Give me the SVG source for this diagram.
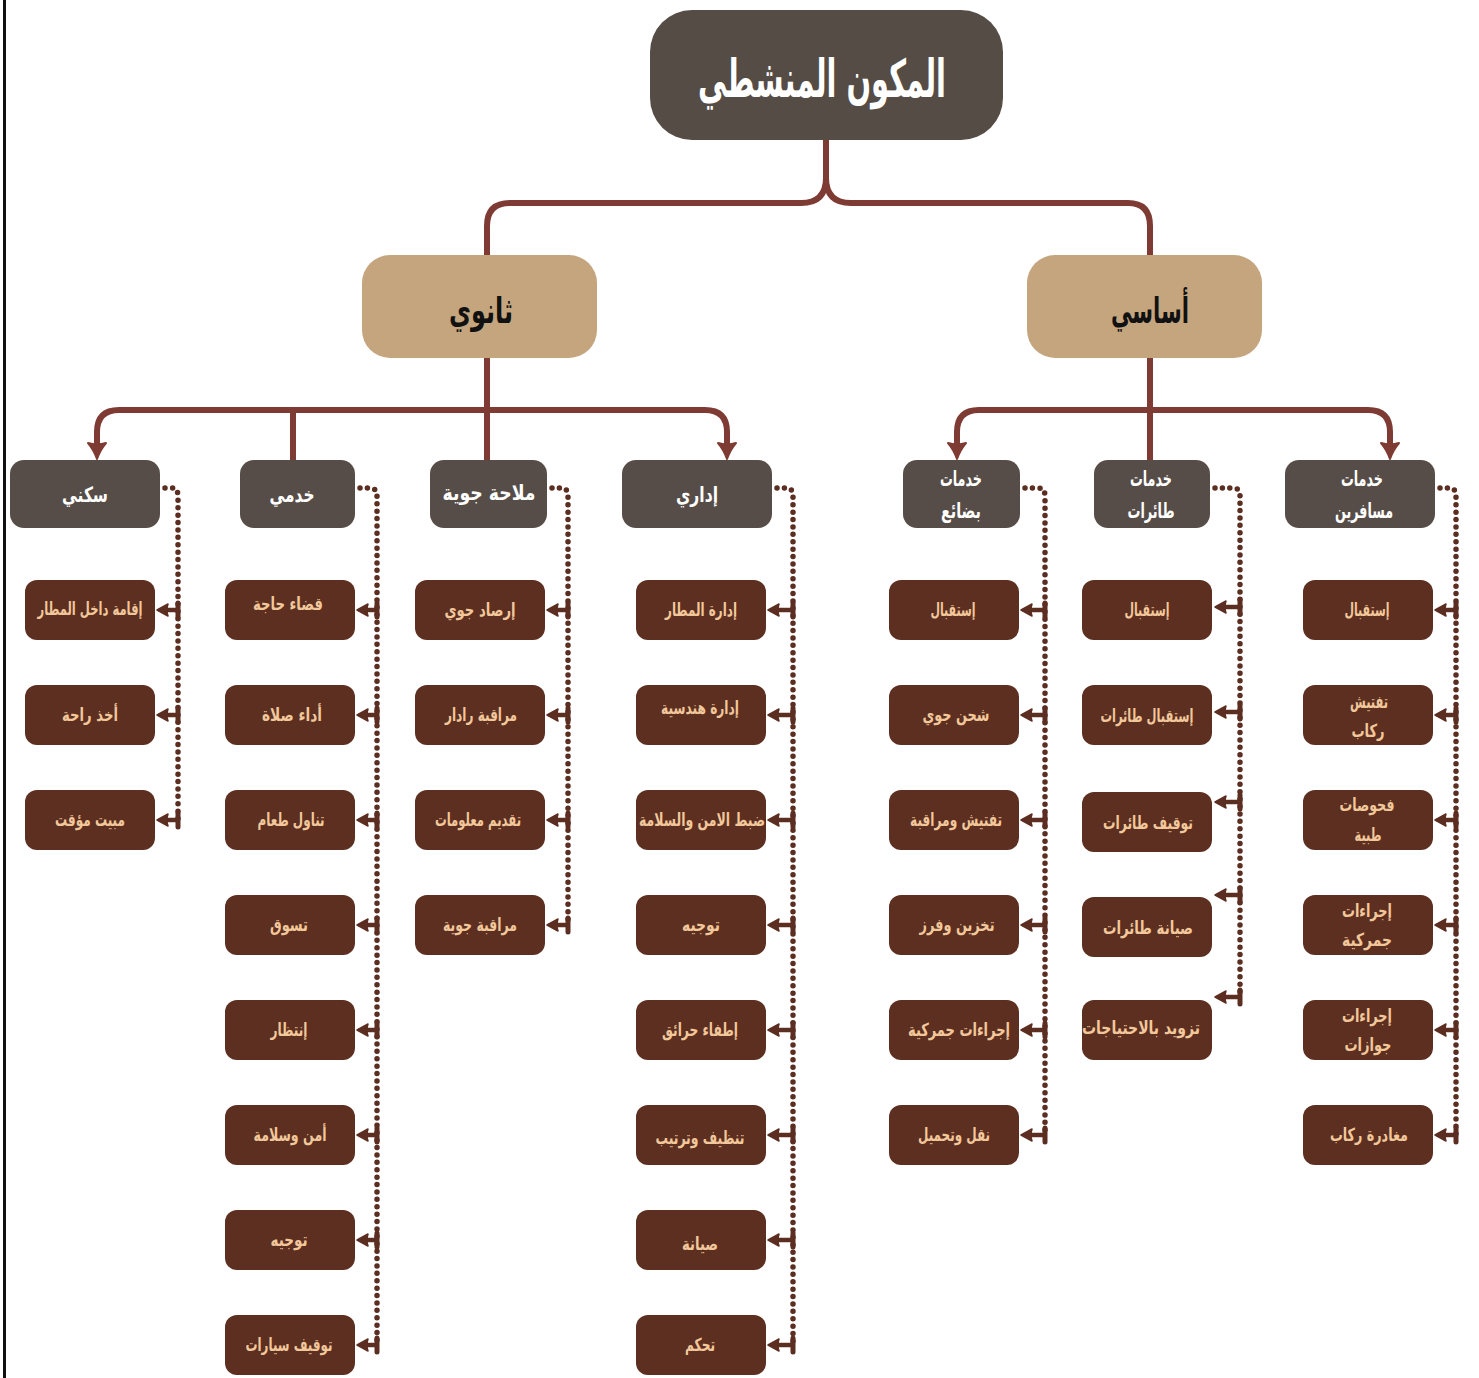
<svg xmlns="http://www.w3.org/2000/svg" width="1479" height="1378" viewBox="0 0 1479 1378">
  <defs>
    <style>
      text { font-family: "DejaVu Sans", "Noto Sans", sans-serif; text-anchor: middle; direction: rtl; }
      .root rect { fill: #564c46; }
      .root text { fill: #ffffff; font-size: 52px; font-weight: bold; }
      .lvl1 rect { fill: #c4a57d; }
      .lvl1 text { fill: #111111; font-size: 36px; font-weight: bold; }
      .head rect { fill: #574d48; }
      .head text { fill: #ffffff; font-size: 21px; font-weight: bold; }
      .leaf rect { fill: #5c2f21; }
      .leaf text { fill: #f2c89b; font-size: 18px; font-weight: bold; }
      .trunk { fill: none; stroke: #7e3b34; stroke-width: 6; stroke-linecap: butt; }
      .dots { fill: none; stroke: #5c2e22; stroke-width: 5.5; stroke-linecap: round; stroke-dasharray: 0 7.4; }
      .tick { fill: none; stroke: #5c2e22; stroke-width: 4.5; }
      .bar { stroke: #5c2e22; stroke-width: 5; stroke-linecap: round; }
    </style>
    <marker id="arrowDown" markerUnits="userSpaceOnUse" markerWidth="30" markerHeight="30" viewBox="-15 -15 30 30" refX="0" refY="0" orient="auto">
      <path d="M-5,-9 Q2,-3 11,0 Q2,3 -5,9 Q-2,0 -5,-9 Z" fill="#7e3b34" stroke="#7e3b34" stroke-width="2" stroke-linejoin="round"/>
    </marker>
    <marker id="arrowLeaf" markerUnits="userSpaceOnUse" markerWidth="20" markerHeight="20" viewBox="-10 -10 20 20" refX="0" refY="0" orient="auto">
      <path d="M-4,-6 L7,0 L-4,6 Q-2,0 -4,-6 Z" fill="#5c2e22" stroke="#5c2e22" stroke-width="1.5" stroke-linejoin="round"/>
    </marker>
  </defs>

  <rect width="1479" height="1378" fill="#ffffff"/>
  <line x1="4.5" y1="0" x2="4.5" y2="1378" stroke="#111111" stroke-width="3"/>

  <!-- connectors -->
  <g id="connectors">
    <!-- brace under the root -->
    <path class="trunk" d="M826,140 V178 Q826,203 801,203 H510 Q487,203 487,226 V258"/>
    <path class="trunk" d="M826,178 Q826,203 851,203 H1128 Q1150,203 1150,226 V258"/>
    <!-- secondary branch -->
    <path class="trunk" d="M487,356 V462"/>
    <path class="trunk" d="M293,410 V462"/>
    <path class="trunk" marker-end="url(#arrowDown)" d="M487,410 H119 Q97,410 97,432 V448"/>
    <path class="trunk" marker-end="url(#arrowDown)" d="M487,410 H705 Q727,410 727,432 V448"/>
    <!-- primary branch -->
    <path class="trunk" d="M1150,356 V462"/>
    <path class="trunk" marker-end="url(#arrowDown)" d="M1150,410 H979 Q957,410 957,432 V448"/>
    <path class="trunk" marker-end="url(#arrowDown)" d="M1150,410 H1368 Q1390,410 1390,432 V448"/>

    <!-- dotted leaders from the headers -->
    <path class="dots" d="M165,488 H171 Q178,488 178,496 V823"/>
    <path class="dots" d="M360,488 H370 Q377,488 377,496 V1345"/>
    <path class="dots" d="M552,488 H561 Q568,488 568,496 V925"/>
    <path class="dots" d="M777,488 H786 Q793,488 793,496 V1345"/>
    <path class="dots" d="M1025,488 H1038 Q1045,488 1045,496 V1135"/>
    <path class="dots" d="M1215,488 H1233 Q1240,488 1240,496 V997"/>
    <path class="dots" d="M1440,488 H1449 Q1456,488 1456,496 V1135"/>

    <!-- leaf ticks: سكني -->
    <g>
      <path class="tick" marker-end="url(#arrowLeaf)" d="M178,610 H164"/><line class="bar" x1="178" y1="603" x2="178" y2="617"/>
      <path class="tick" marker-end="url(#arrowLeaf)" d="M178,715 H164"/><line class="bar" x1="178" y1="708" x2="178" y2="722"/>
      <path class="tick" marker-end="url(#arrowLeaf)" d="M178,820 H164"/><line class="bar" x1="178" y1="813" x2="178" y2="827"/>
    </g>
    <!-- leaf ticks: خدمي -->
    <g>
      <path class="tick" marker-end="url(#arrowLeaf)" d="M377,610 H364"/><line class="bar" x1="377" y1="603" x2="377" y2="617"/>
      <path class="tick" marker-end="url(#arrowLeaf)" d="M377,715 H364"/><line class="bar" x1="377" y1="708" x2="377" y2="722"/>
      <path class="tick" marker-end="url(#arrowLeaf)" d="M377,820 H364"/><line class="bar" x1="377" y1="813" x2="377" y2="827"/>
      <path class="tick" marker-end="url(#arrowLeaf)" d="M377,925 H364"/><line class="bar" x1="377" y1="918" x2="377" y2="932"/>
      <path class="tick" marker-end="url(#arrowLeaf)" d="M377,1030 H364"/><line class="bar" x1="377" y1="1023" x2="377" y2="1037"/>
      <path class="tick" marker-end="url(#arrowLeaf)" d="M377,1135 H364"/><line class="bar" x1="377" y1="1128" x2="377" y2="1142"/>
      <path class="tick" marker-end="url(#arrowLeaf)" d="M377,1240 H364"/><line class="bar" x1="377" y1="1233" x2="377" y2="1247"/>
      <path class="tick" marker-end="url(#arrowLeaf)" d="M377,1345 H364"/><line class="bar" x1="377" y1="1338" x2="377" y2="1352"/>
    </g>
    <!-- leaf ticks: ملاحة جوية -->
    <g>
      <path class="tick" marker-end="url(#arrowLeaf)" d="M568,610 H554"/><line class="bar" x1="568" y1="603" x2="568" y2="617"/>
      <path class="tick" marker-end="url(#arrowLeaf)" d="M568,715 H554"/><line class="bar" x1="568" y1="708" x2="568" y2="722"/>
      <path class="tick" marker-end="url(#arrowLeaf)" d="M568,820 H554"/><line class="bar" x1="568" y1="813" x2="568" y2="827"/>
      <path class="tick" marker-end="url(#arrowLeaf)" d="M568,925 H554"/><line class="bar" x1="568" y1="918" x2="568" y2="932"/>
    </g>
    <!-- leaf ticks: إداري -->
    <g>
      <path class="tick" marker-end="url(#arrowLeaf)" d="M793,610 H775"/><line class="bar" x1="793" y1="603" x2="793" y2="617"/>
      <path class="tick" marker-end="url(#arrowLeaf)" d="M793,715 H775"/><line class="bar" x1="793" y1="708" x2="793" y2="722"/>
      <path class="tick" marker-end="url(#arrowLeaf)" d="M793,820 H775"/><line class="bar" x1="793" y1="813" x2="793" y2="827"/>
      <path class="tick" marker-end="url(#arrowLeaf)" d="M793,925 H775"/><line class="bar" x1="793" y1="918" x2="793" y2="932"/>
      <path class="tick" marker-end="url(#arrowLeaf)" d="M793,1030 H775"/><line class="bar" x1="793" y1="1023" x2="793" y2="1037"/>
      <path class="tick" marker-end="url(#arrowLeaf)" d="M793,1135 H775"/><line class="bar" x1="793" y1="1128" x2="793" y2="1142"/>
      <path class="tick" marker-end="url(#arrowLeaf)" d="M793,1240 H775"/><line class="bar" x1="793" y1="1233" x2="793" y2="1247"/>
      <path class="tick" marker-end="url(#arrowLeaf)" d="M793,1345 H775"/><line class="bar" x1="793" y1="1338" x2="793" y2="1352"/>
    </g>
    <!-- leaf ticks: خدمات بضائع -->
    <g>
      <path class="tick" marker-end="url(#arrowLeaf)" d="M1045,610 H1028"/><line class="bar" x1="1045" y1="603" x2="1045" y2="617"/>
      <path class="tick" marker-end="url(#arrowLeaf)" d="M1045,715 H1028"/><line class="bar" x1="1045" y1="708" x2="1045" y2="722"/>
      <path class="tick" marker-end="url(#arrowLeaf)" d="M1045,820 H1028"/><line class="bar" x1="1045" y1="813" x2="1045" y2="827"/>
      <path class="tick" marker-end="url(#arrowLeaf)" d="M1045,925 H1028"/><line class="bar" x1="1045" y1="918" x2="1045" y2="932"/>
      <path class="tick" marker-end="url(#arrowLeaf)" d="M1045,1030 H1028"/><line class="bar" x1="1045" y1="1023" x2="1045" y2="1037"/>
      <path class="tick" marker-end="url(#arrowLeaf)" d="M1045,1135 H1028"/><line class="bar" x1="1045" y1="1128" x2="1045" y2="1142"/>
    </g>
    <!-- leaf ticks: خدمات طائرات -->
    <g>
      <path class="tick" marker-end="url(#arrowLeaf)" d="M1240,607 H1222"/><line class="bar" x1="1240" y1="600" x2="1240" y2="614"/>
      <path class="tick" marker-end="url(#arrowLeaf)" d="M1240,712 H1222"/><line class="bar" x1="1240" y1="705" x2="1240" y2="719"/>
      <path class="tick" marker-end="url(#arrowLeaf)" d="M1240,802 H1222"/><line class="bar" x1="1240" y1="795" x2="1240" y2="809"/>
      <path class="tick" marker-end="url(#arrowLeaf)" d="M1240,895 H1222"/><line class="bar" x1="1240" y1="888" x2="1240" y2="902"/>
      <path class="tick" marker-end="url(#arrowLeaf)" d="M1240,997 H1222"/><line class="bar" x1="1240" y1="990" x2="1240" y2="1004"/>
    </g>
    <!-- leaf ticks: خدمات مسافرين -->
    <g>
      <path class="tick" marker-end="url(#arrowLeaf)" d="M1456,610 H1442"/><line class="bar" x1="1456" y1="603" x2="1456" y2="617"/>
      <path class="tick" marker-end="url(#arrowLeaf)" d="M1456,715 H1442"/><line class="bar" x1="1456" y1="708" x2="1456" y2="722"/>
      <path class="tick" marker-end="url(#arrowLeaf)" d="M1456,820 H1442"/><line class="bar" x1="1456" y1="813" x2="1456" y2="827"/>
      <path class="tick" marker-end="url(#arrowLeaf)" d="M1456,925 H1442"/><line class="bar" x1="1456" y1="918" x2="1456" y2="932"/>
      <path class="tick" marker-end="url(#arrowLeaf)" d="M1456,1030 H1442"/><line class="bar" x1="1456" y1="1023" x2="1456" y2="1037"/>
      <path class="tick" marker-end="url(#arrowLeaf)" d="M1456,1135 H1442"/><line class="bar" x1="1456" y1="1128" x2="1456" y2="1142"/>
    </g>
  </g>

  <!-- root -->
  <g id="root" class="root">
    <rect x="650" y="10" width="353" height="130" rx="42"/>
    <text x="822" y="97" textLength="248" lengthAdjust="spacingAndGlyphs">المكون المنشطي</text>
  </g>

  <!-- first level -->
  <g id="secondary" class="lvl1">
    <rect x="362" y="255" width="235" height="103" rx="28"/>
    <text x="481" y="323" textLength="64" lengthAdjust="spacingAndGlyphs">ثانوي</text>
  </g>
  <g id="primary" class="lvl1">
    <rect x="1027" y="255" width="235" height="103" rx="28"/>
    <text x="1150" y="323" textLength="78" lengthAdjust="spacingAndGlyphs">أساسي</text>
  </g>

  <!-- second level headers -->
  <g id="h-residential" class="head"><rect x="10" y="460" width="150" height="68" rx="14"/><text x="85" y="502" textLength="46" lengthAdjust="spacingAndGlyphs">سكني</text></g>
  <g id="h-service" class="head"><rect x="240" y="460" width="115" height="68" rx="14"/><text x="292" y="502" textLength="45" lengthAdjust="spacingAndGlyphs">خدمي</text></g>
  <g id="h-navigation" class="head"><rect x="430" y="460" width="117" height="68" rx="14"/><text x="489" y="500" textLength="93" lengthAdjust="spacingAndGlyphs">ملاحة جوية</text></g>
  <g id="h-admin" class="head"><rect x="622" y="460" width="150" height="68" rx="14"/><text x="697" y="502" textLength="42" lengthAdjust="spacingAndGlyphs">إداري</text></g>
  <g id="h-cargo" class="head"><rect x="903" y="460" width="117" height="68" rx="14"/><text x="961" y="486" textLength="42" lengthAdjust="spacingAndGlyphs">خدمات</text><text x="961" y="518" textLength="40" lengthAdjust="spacingAndGlyphs">بضائع</text></g>
  <g id="h-aircraft" class="head"><rect x="1094" y="460" width="116" height="68" rx="14"/><text x="1151" y="486" textLength="42" lengthAdjust="spacingAndGlyphs">خدمات</text><text x="1151" y="518" textLength="47" lengthAdjust="spacingAndGlyphs">طائرات</text></g>
  <g id="h-passengers" class="head"><rect x="1285" y="460" width="150" height="68" rx="14"/><text x="1362" y="486" textLength="42" lengthAdjust="spacingAndGlyphs">خدمات</text><text x="1364" y="518" textLength="58" lengthAdjust="spacingAndGlyphs">مسافرين</text></g>

  <!-- leaves: سكني -->
  <g id="l-res-1" class="leaf"><rect x="25" y="580" width="130" height="60" rx="12"/><text x="90" y="615" textLength="105" lengthAdjust="spacingAndGlyphs">إقامة داخل المطار</text></g>
  <g id="l-res-2" class="leaf"><rect x="25" y="685" width="130" height="60" rx="12"/><text x="90" y="721" textLength="56" lengthAdjust="spacingAndGlyphs">أخذ راحة</text></g>
  <g id="l-res-3" class="leaf"><rect x="25" y="790" width="130" height="60" rx="12"/><text x="90" y="826" textLength="70" lengthAdjust="spacingAndGlyphs">مبيت مؤقت</text></g>

  <!-- leaves: خدمي -->
  <g id="l-srv-1" class="leaf"><rect x="225" y="580" width="130" height="60" rx="12"/><text x="288" y="610" textLength="70" lengthAdjust="spacingAndGlyphs">قضاء حاجة</text></g>
  <g id="l-srv-2" class="leaf"><rect x="225" y="685" width="130" height="60" rx="12"/><text x="292" y="721" textLength="60" lengthAdjust="spacingAndGlyphs">أداء صلاة</text></g>
  <g id="l-srv-3" class="leaf"><rect x="225" y="790" width="130" height="60" rx="12"/><text x="291" y="826" textLength="67" lengthAdjust="spacingAndGlyphs">تناول طعام</text></g>
  <g id="l-srv-4" class="leaf"><rect x="225" y="895" width="130" height="60" rx="12"/><text x="289" y="931" textLength="38" lengthAdjust="spacingAndGlyphs">تسوق</text></g>
  <g id="l-srv-5" class="leaf"><rect x="225" y="1000" width="130" height="60" rx="12"/><text x="289" y="1036" textLength="37" lengthAdjust="spacingAndGlyphs">إنتظار</text></g>
  <g id="l-srv-6" class="leaf"><rect x="225" y="1105" width="130" height="60" rx="12"/><text x="290" y="1141" textLength="73" lengthAdjust="spacingAndGlyphs">أمن وسلامة</text></g>
  <g id="l-srv-7" class="leaf"><rect x="225" y="1210" width="130" height="60" rx="12"/><text x="289" y="1246" textLength="37" lengthAdjust="spacingAndGlyphs">توجيه</text></g>
  <g id="l-srv-8" class="leaf"><rect x="225" y="1315" width="130" height="60" rx="12"/><text x="289" y="1351" textLength="87" lengthAdjust="spacingAndGlyphs">توقيف سيارات</text></g>

  <!-- leaves: ملاحة جوية -->
  <g id="l-nav-1" class="leaf"><rect x="415" y="580" width="130" height="60" rx="12"/><text x="480" y="616" textLength="71" lengthAdjust="spacingAndGlyphs">إرصاد جوي</text></g>
  <g id="l-nav-2" class="leaf"><rect x="415" y="685" width="130" height="60" rx="12"/><text x="481" y="721" textLength="72" lengthAdjust="spacingAndGlyphs">مراقبة رادار</text></g>
  <g id="l-nav-3" class="leaf"><rect x="415" y="790" width="130" height="60" rx="12"/><text x="478" y="826" textLength="86" lengthAdjust="spacingAndGlyphs">تقديم معلومات</text></g>
  <g id="l-nav-4" class="leaf"><rect x="415" y="895" width="130" height="60" rx="12"/><text x="480" y="931" textLength="74" lengthAdjust="spacingAndGlyphs">مراقبة جوية</text></g>

  <!-- leaves: إداري -->
  <g id="l-adm-1" class="leaf"><rect x="636" y="580" width="130" height="60" rx="12"/><text x="701" y="616" textLength="72" lengthAdjust="spacingAndGlyphs">إدارة المطار</text></g>
  <g id="l-adm-2" class="leaf"><rect x="636" y="685" width="130" height="60" rx="12"/><text x="700" y="714" textLength="78" lengthAdjust="spacingAndGlyphs">إدارة هندسية</text></g>
  <g id="l-adm-3" class="leaf"><rect x="636" y="790" width="130" height="60" rx="12"/><text x="702" y="826" textLength="126" lengthAdjust="spacingAndGlyphs">ضبط الامن والسلامة</text></g>
  <g id="l-adm-4" class="leaf"><rect x="636" y="895" width="130" height="60" rx="12"/><text x="701" y="931" textLength="38" lengthAdjust="spacingAndGlyphs">توجيه</text></g>
  <g id="l-adm-5" class="leaf"><rect x="636" y="1000" width="130" height="60" rx="12"/><text x="700" y="1036" textLength="76" lengthAdjust="spacingAndGlyphs">إطفاء حرائق</text></g>
  <g id="l-adm-6" class="leaf"><rect x="636" y="1105" width="130" height="60" rx="12"/><text x="700" y="1144" textLength="89" lengthAdjust="spacingAndGlyphs">تنظيف وترتيب</text></g>
  <g id="l-adm-7" class="leaf"><rect x="636" y="1210" width="130" height="60" rx="12"/><text x="700" y="1250" textLength="36" lengthAdjust="spacingAndGlyphs">صيانة</text></g>
  <g id="l-adm-8" class="leaf"><rect x="636" y="1315" width="130" height="60" rx="12"/><text x="700" y="1351" textLength="30" lengthAdjust="spacingAndGlyphs">تحكم</text></g>

  <!-- leaves: خدمات بضائع -->
  <g id="l-crg-1" class="leaf"><rect x="889" y="580" width="130" height="60" rx="12"/><text x="953" y="616" textLength="45" lengthAdjust="spacingAndGlyphs">إستقبال</text></g>
  <g id="l-crg-2" class="leaf"><rect x="889" y="685" width="130" height="60" rx="12"/><text x="956" y="721" textLength="67" lengthAdjust="spacingAndGlyphs">شحن جوي</text></g>
  <g id="l-crg-3" class="leaf"><rect x="889" y="790" width="130" height="60" rx="12"/><text x="956" y="826" textLength="92" lengthAdjust="spacingAndGlyphs">تفتيش ومراقبة</text></g>
  <g id="l-crg-4" class="leaf"><rect x="889" y="895" width="130" height="60" rx="12"/><text x="957" y="931" textLength="75" lengthAdjust="spacingAndGlyphs">تخزين وفرز</text></g>
  <g id="l-crg-5" class="leaf"><rect x="889" y="1000" width="130" height="60" rx="12"/><text x="959" y="1036" textLength="102" lengthAdjust="spacingAndGlyphs">إجراءات جمركية</text></g>
  <g id="l-crg-6" class="leaf"><rect x="889" y="1105" width="130" height="60" rx="12"/><text x="954" y="1141" textLength="72" lengthAdjust="spacingAndGlyphs">نقل وتحميل</text></g>

  <!-- leaves: خدمات طائرات -->
  <g id="l-air-1" class="leaf"><rect x="1082" y="580" width="130" height="60" rx="12"/><text x="1147" y="616" textLength="45" lengthAdjust="spacingAndGlyphs">إستقبال</text></g>
  <g id="l-air-2" class="leaf"><rect x="1082" y="685" width="130" height="60" rx="12"/><text x="1147" y="722" textLength="93" lengthAdjust="spacingAndGlyphs">إستقبال طائرات</text></g>
  <g id="l-air-3" class="leaf"><rect x="1082" y="792" width="130" height="60" rx="12"/><text x="1148" y="829" textLength="90" lengthAdjust="spacingAndGlyphs">توقيف طائرات</text></g>
  <g id="l-air-4" class="leaf"><rect x="1082" y="897" width="130" height="60" rx="12"/><text x="1148" y="934" textLength="90" lengthAdjust="spacingAndGlyphs">صيانة طائرات</text></g>
  <g id="l-air-5" class="leaf"><rect x="1082" y="1000" width="130" height="60" rx="12"/><text x="1141" y="1034" textLength="118" lengthAdjust="spacingAndGlyphs">تزويد بالاحتياجات</text></g>

  <!-- leaves: خدمات مسافرين -->
  <g id="l-pax-1" class="leaf"><rect x="1303" y="580" width="130" height="60" rx="12"/><text x="1367" y="616" textLength="45" lengthAdjust="spacingAndGlyphs">إستقبال</text></g>
  <g id="l-pax-2" class="leaf"><rect x="1303" y="685" width="130" height="60" rx="12"/><text x="1369" y="708" textLength="38" lengthAdjust="spacingAndGlyphs">تفتيش</text><text x="1368" y="737" textLength="33" lengthAdjust="spacingAndGlyphs">ركاب</text></g>
  <g id="l-pax-3" class="leaf"><rect x="1303" y="790" width="130" height="60" rx="12"/><text x="1367" y="811" textLength="55" lengthAdjust="spacingAndGlyphs">فحوصات</text><text x="1368" y="841" textLength="27" lengthAdjust="spacingAndGlyphs">طبية</text></g>
  <g id="l-pax-4" class="leaf"><rect x="1303" y="895" width="130" height="60" rx="12"/><text x="1367" y="917" textLength="50" lengthAdjust="spacingAndGlyphs">إجراءات</text><text x="1367" y="946" textLength="50" lengthAdjust="spacingAndGlyphs">جمركية</text></g>
  <g id="l-pax-5" class="leaf"><rect x="1303" y="1000" width="130" height="60" rx="12"/><text x="1367" y="1022" textLength="50" lengthAdjust="spacingAndGlyphs">إجراءات</text><text x="1368" y="1051" textLength="47" lengthAdjust="spacingAndGlyphs">جوازات</text></g>
  <g id="l-pax-6" class="leaf"><rect x="1303" y="1105" width="130" height="60" rx="12"/><text x="1369" y="1141" textLength="78" lengthAdjust="spacingAndGlyphs">مغادرة ركاب</text></g>
</svg>
